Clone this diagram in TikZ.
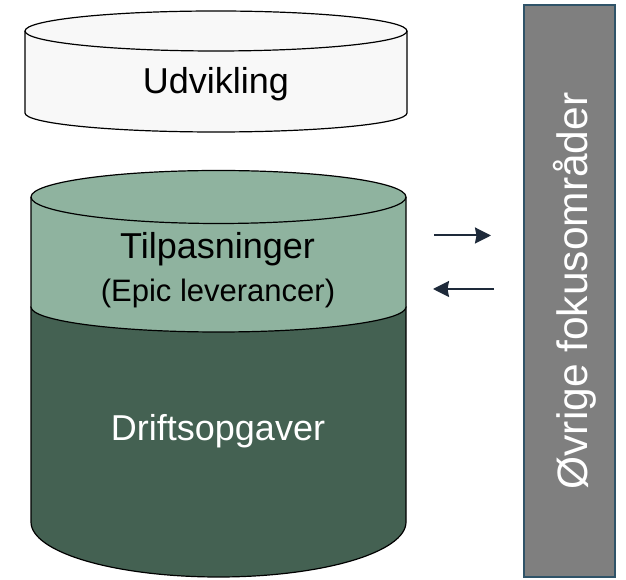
\documentclass[tikz,border=0pt]{standalone}
\usepackage{fontspec}
\setmainfont{Liberation Sans}
\usepackage{tikz}
\usetikzlibrary{positioning}
\usetikzlibrary{arrows.meta}
\definecolor{udvfill}{HTML}{F8F8F8}
\definecolor{tilpgreen}{HTML}{8FB39F}
\definecolor{driftgreen}{HTML}{446152}
\definecolor{fokusgray}{HTML}{7F7F7F}
\definecolor{fokusline}{HTML}{2F5368}
\definecolor{pilnavy}{HTML}{1E2A3A}
\tikzstyle{can} = [draw=black, line width=1.2pt]
\tikzstyle{cantext} = [inner sep=0pt, anchor=base, font=\fontsize{36}{40}\selectfont]
\tikzstyle{arrow} = [draw=pilnavy, line width=2pt, -{Stealth[length=16pt, width=16pt, inset=1.5pt, fill=pilnavy]}]
\tikzstyle{fokusbox} = [draw=fokusline, fill=fokusgray, line width=2pt, rotate=90, minimum width=572pt, minimum height=91pt, inner sep=0pt, text height=35pt, text depth=0pt, text=white, font=\fontsize{42.5}{46}\selectfont]

\begin{document}
\begin{tikzpicture}[x=1pt,y=1pt]
\useasboundingbox (0,0) rectangle (626,580);
\draw[can, fill=udvfill] (25,549) -- (25,467) arc[start angle=180, end angle=360, x radius=191, y radius=19] -- (407,549) arc[start angle=0, end angle=180, x radius=191, y radius=20] -- cycle;
\draw[can] (25,549) arc[start angle=180, end angle=360, x radius=191, y radius=20];
\draw[can, fill=driftgreen] (31,273) -- (31,58) arc[start angle=180, end angle=360, x radius=187.5, y radius=55] -- (406,273) -- cycle;
\draw[can, fill=tilpgreen] (31,383) -- (31,273) arc[start angle=180, end angle=360, x radius=187.5, y radius=25] -- (406,383) arc[start angle=0, end angle=180, x radius=187.5, y radius=26.5] -- cycle;
\draw[can] (31,383) arc[start angle=180, end angle=360, x radius=187.5, y radius=26.5];
\node[cantext] (udv) at (216,486) {Udvikling};
\node[cantext] (tilp) at (217.5,321) {Tilpasninger};
\node[cantext, font=\fontsize{31}{34}\selectfont] (epic) at (218,278) {(Epic leverancer)};
\node[cantext, text=white] (drift) at (218,139) {Driftsopgaver};
\node[fokusbox] (fokus) at (569.5,289) {Øvrige fokusområder};
\coordinate (ud1) at (434,344.5);
\coordinate (ud2) at (491,344.5);
\coordinate (ind1) at (494,291);
\coordinate (ind2) at (433,291);
\draw[arrow] (ud1) -- (ud2);
\draw[arrow] (ind1) -- (ind2);
\end{tikzpicture}
\end{document}
